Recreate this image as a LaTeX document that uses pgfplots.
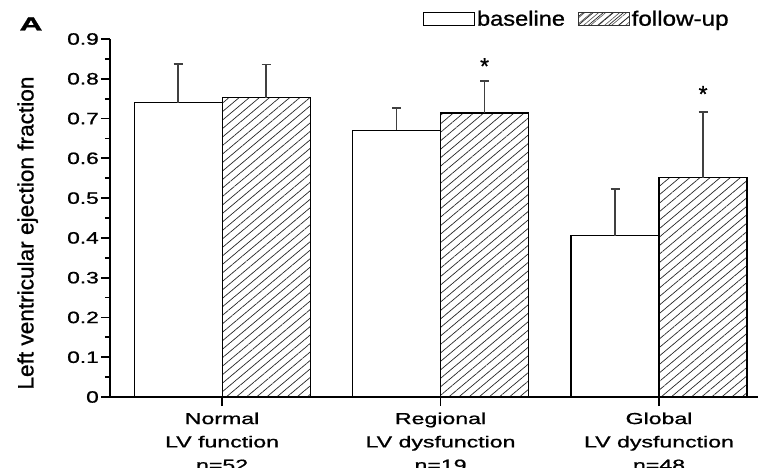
\documentclass[border=0pt]{standalone}
\usepackage{fontspec}
\setmainfont[FakeBold=0.9]{Liberation Sans}
\usepackage{pgfplots}
\usepackage{pgfplotstable}
\pgfplotsset{compat=1.18}
\usetikzlibrary{patterns.meta}

% text boxed to a set width and height
\newcommand{\tl}[1]{\resizebox{!}{11.5bp}{\scalebox{1.38}[1]{#1}}}
\newcommand{\cat}[1]{\scalebox{1.45}[1]{\fontsize{16}{16}\selectfont #1}}

% LV ejection fraction: mean and upper SD
\pgfplotstableread{
x y err
0 0.740 0.097
1 0.671 0.056
2 0.406 0.117
}\tblbase
\pgfplotstableread{
x y err
0 0.752 0.084
1 0.714 0.080
2 0.551 0.166
}\tblfollow

\begin{document}
\begin{tikzpicture}
\begin{axis}[
  scale only axis, width=648bp, height=358bp,
  xmin=-0.513, xmax=2.453, ymin=0, ymax=0.9,
  axis x line*=bottom, axis y line*=left,
  axis line style={line width=2.2bp, -},
  ytick={0,0.1,0.2,0.3,0.4,0.5,0.6,0.7,0.8,0.9},
  minor y tick num=1,
  xtick={0,1,2},
  tick align=outside,
  major tick length=9bp, minor tick length=5bp,
  every tick/.style={black, line width=1.8bp},
  yticklabels={\tl{0},\tl{0.1},\tl{0.2},\tl{0.3},\tl{0.4},\tl{0.5},\tl{0.6},\tl{0.7},\tl{0.8},\tl{0.9}},
  yticklabel style={anchor=east, inner sep=2bp},
  xticklabels={
    {\cat{Normal}\\\cat{LV function}\\\cat{n=52}},
    {\cat{Regional}\\\cat{LV dysfunction}\\\cat{n=19}},
    {\cat{Global}\\\cat{LV dysfunction}\\\cat{n=48}}},
  xticklabel style={align=center, font=\fontsize{16}{23.4}\selectfont, yshift=-3bp},
  ylabel={\resizebox{313bp}{16bp}{Left ventricular ejection fraction}},
  ylabel style={at={(axis description cs:-0.127,0.458)}, anchor=center},
  ybar, bar width=88bp,
  legend columns=2,
  legend style={at={(rel axis cs:0.478,1.056)}, anchor=west, draw=none, fill=none,
    font=\fontsize{21}{24}\selectfont, nodes={inner sep=2bp},
    /tikz/every even column/.append style={column sep=11bp}},
  error bars/y dir=plus, error bars/y explicit,
  error bars/error bar style={line width=1.6bp, black!75},
  error bars/error mark options={rotate=90, line width=1.6bp, mark size=4.5bp, black!75},
]
\addplot[bar shift=-44bp, draw=black, line width=1.1bp, fill=white,
  legend image code/.code={\draw[draw=black, line width=1.1bp, fill=white] (0bp,-6.5bp) rectangle (51bp,6.5bp);}]
  table[x=x, y=y, y error=err] {\tblbase};
\addlegendentry{\resizebox{88bp}{15bp}{baseline}}
\addplot[bar shift=44bp, draw=black, line width=1.1bp, fill=white,
  postaction={pattern={Lines[angle=40, distance=6.5bp, line width=0.7bp]}, pattern color=black!85},
  legend image code/.code={\draw[draw=black!80, line width=1.1bp, pattern={Lines[angle=40, distance=4.5bp, line width=0.6bp]}, pattern color=black!70] (0bp,-6.5bp) rectangle (51bp,6.5bp);}]
  table[x=x, y=y, y error=err] {\tblfollow};
\addlegendentry{\resizebox{97bp}{15bp}{follow-up}}
% significance markers
\node[anchor=base, font=\fontsize{23}{24}\selectfont] at (axis cs:1.2015,0.812) {*};
\node[anchor=base, font=\fontsize{23}{24}\selectfont] at (axis cs:2.2015,0.742) {*};
\end{axis}
\node at (-79bp,373bp) {\resizebox{23bp}{13bp}{\bfseries A}};
\pgfresetboundingbox
\useasboundingbox (-110bp,-71bp) rectangle (650bp,397bp);
\end{tikzpicture}
\end{document}
